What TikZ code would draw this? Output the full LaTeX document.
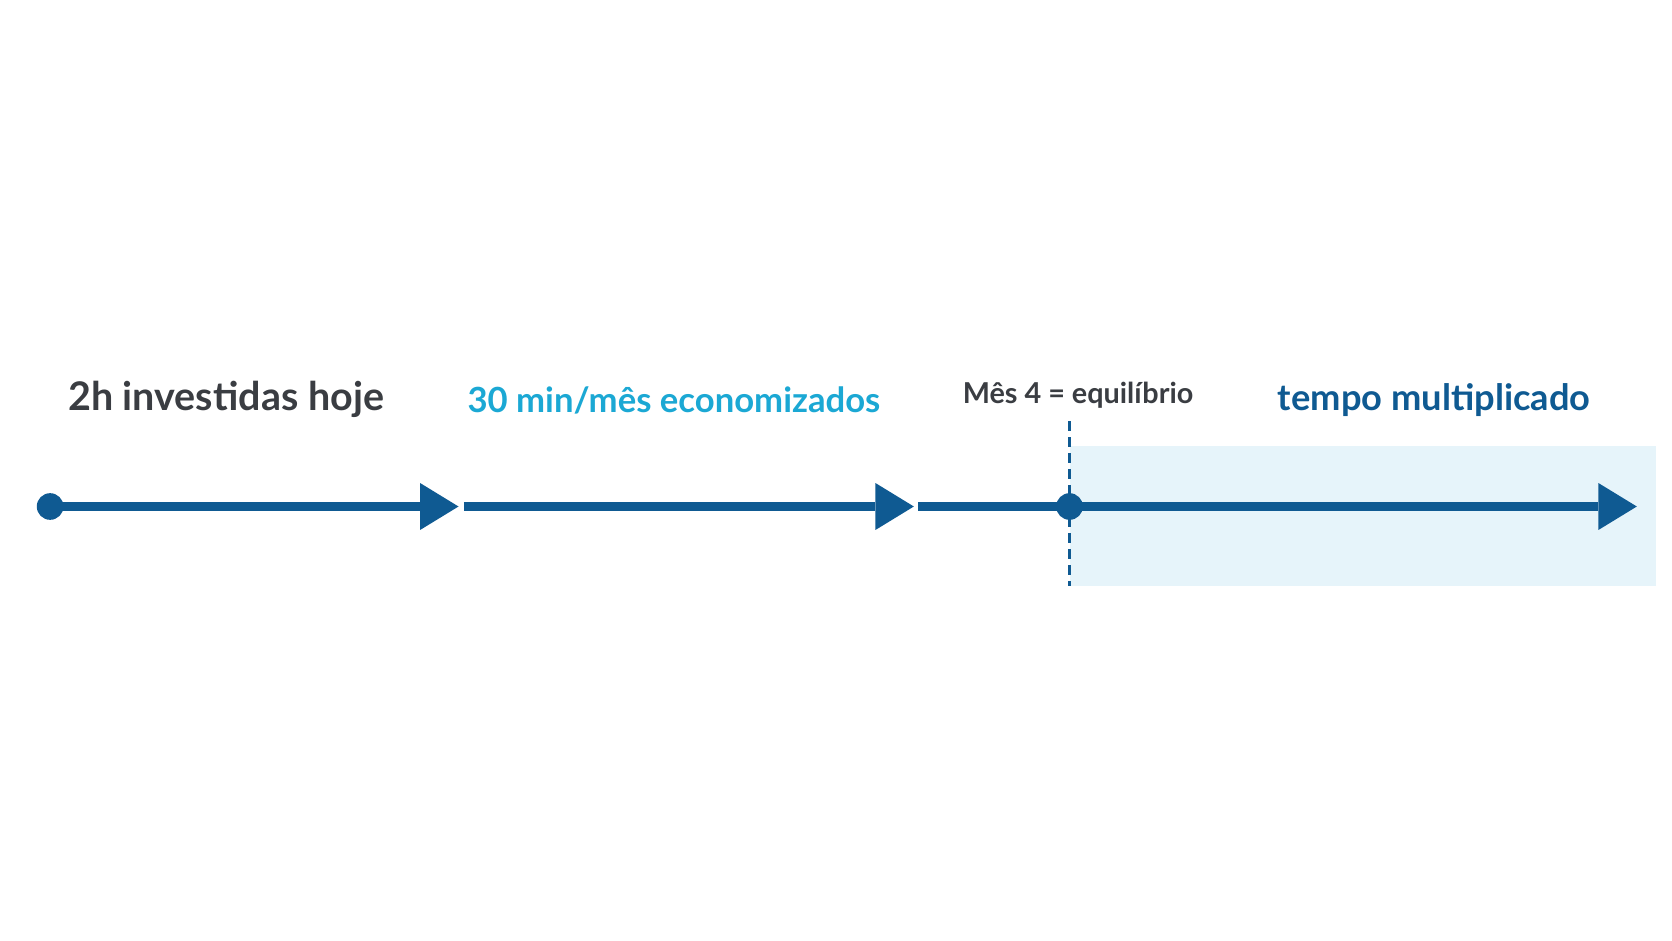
\documentclass[tikz,border=0pt]{standalone}
\usepackage{fontspec}
\setmainfont{Lato}
\definecolor{navy}{HTML}{0F5A92}
\definecolor{cyanx}{HTML}{1BA8D4}
\definecolor{darkg}{HTML}{3A3D42}
\definecolor{bgblue}{HTML}{E6F4FA}
\tikzset{
 seg/.style={draw=navy,line width=8pt},
 head/.style={fill=navy,draw=none},
 lbl/.style={font=\bfseries,inner sep=0pt}
}
\begin{document}
\begin{tikzpicture}[x=1pt,y=-1pt]
\useasboundingbox[fill=white] (0,0) rectangle (1568,882);
\fill[bgblue] (1003,418) rectangle (1553,550);
\coordinate (d1) at (47,475);
\coordinate (h1) at (394,475);
\coordinate (t1) at (430,475);
\coordinate (s2) at (435,475);
\coordinate (h2) at (821,475);
\coordinate (t2) at (857,475);
\coordinate (s3) at (861,475);
\coordinate (h3) at (1499,475);
\coordinate (t3) at (1535,475);
\coordinate (d2) at (1003,475);
\coordinate (q1) at (1003,395);
\coordinate (q2) at (1003,550);
\draw[navy,line width=2.5pt,dash pattern=on 9pt off 6pt] (q1) -- (q2);
\draw[seg] (d1) -- (h1);
\draw[seg] (s2) -- (h2);
\draw[seg] (s3) -- (h3);
\fill[head] (t1) -- ++(-36,-22) -- ++(0,44) -- cycle;
\fill[head] (t2) -- ++(-36,-22) -- ++(0,44) -- cycle;
\fill[head] (t3) -- ++(-36,-22) -- ++(0,44) -- cycle;
\fill[navy] (d1) circle (12.5);
\fill[navy] (d2) circle (12.5);
\node[lbl,text=darkg,font=\fontsize{37}{44}\selectfont\bfseries] (a) at (212,375) {2h investidas hoje};
\node[lbl,text=cyanx,font=\fontsize{32.5}{38}\selectfont\bfseries] (b) at (632,376) {30 min/mês economizados};
\node[lbl,text=darkg,font=\fontsize{27}{32}\selectfont\bfseries] (c) at (1011,371) {Mês 4 = equilíbrio};
\node[lbl,text=navy,font=\fontsize{34}{40}\selectfont\bfseries] (e) at (1345,375) {tempo multiplicado};
\end{tikzpicture}
\end{document}
